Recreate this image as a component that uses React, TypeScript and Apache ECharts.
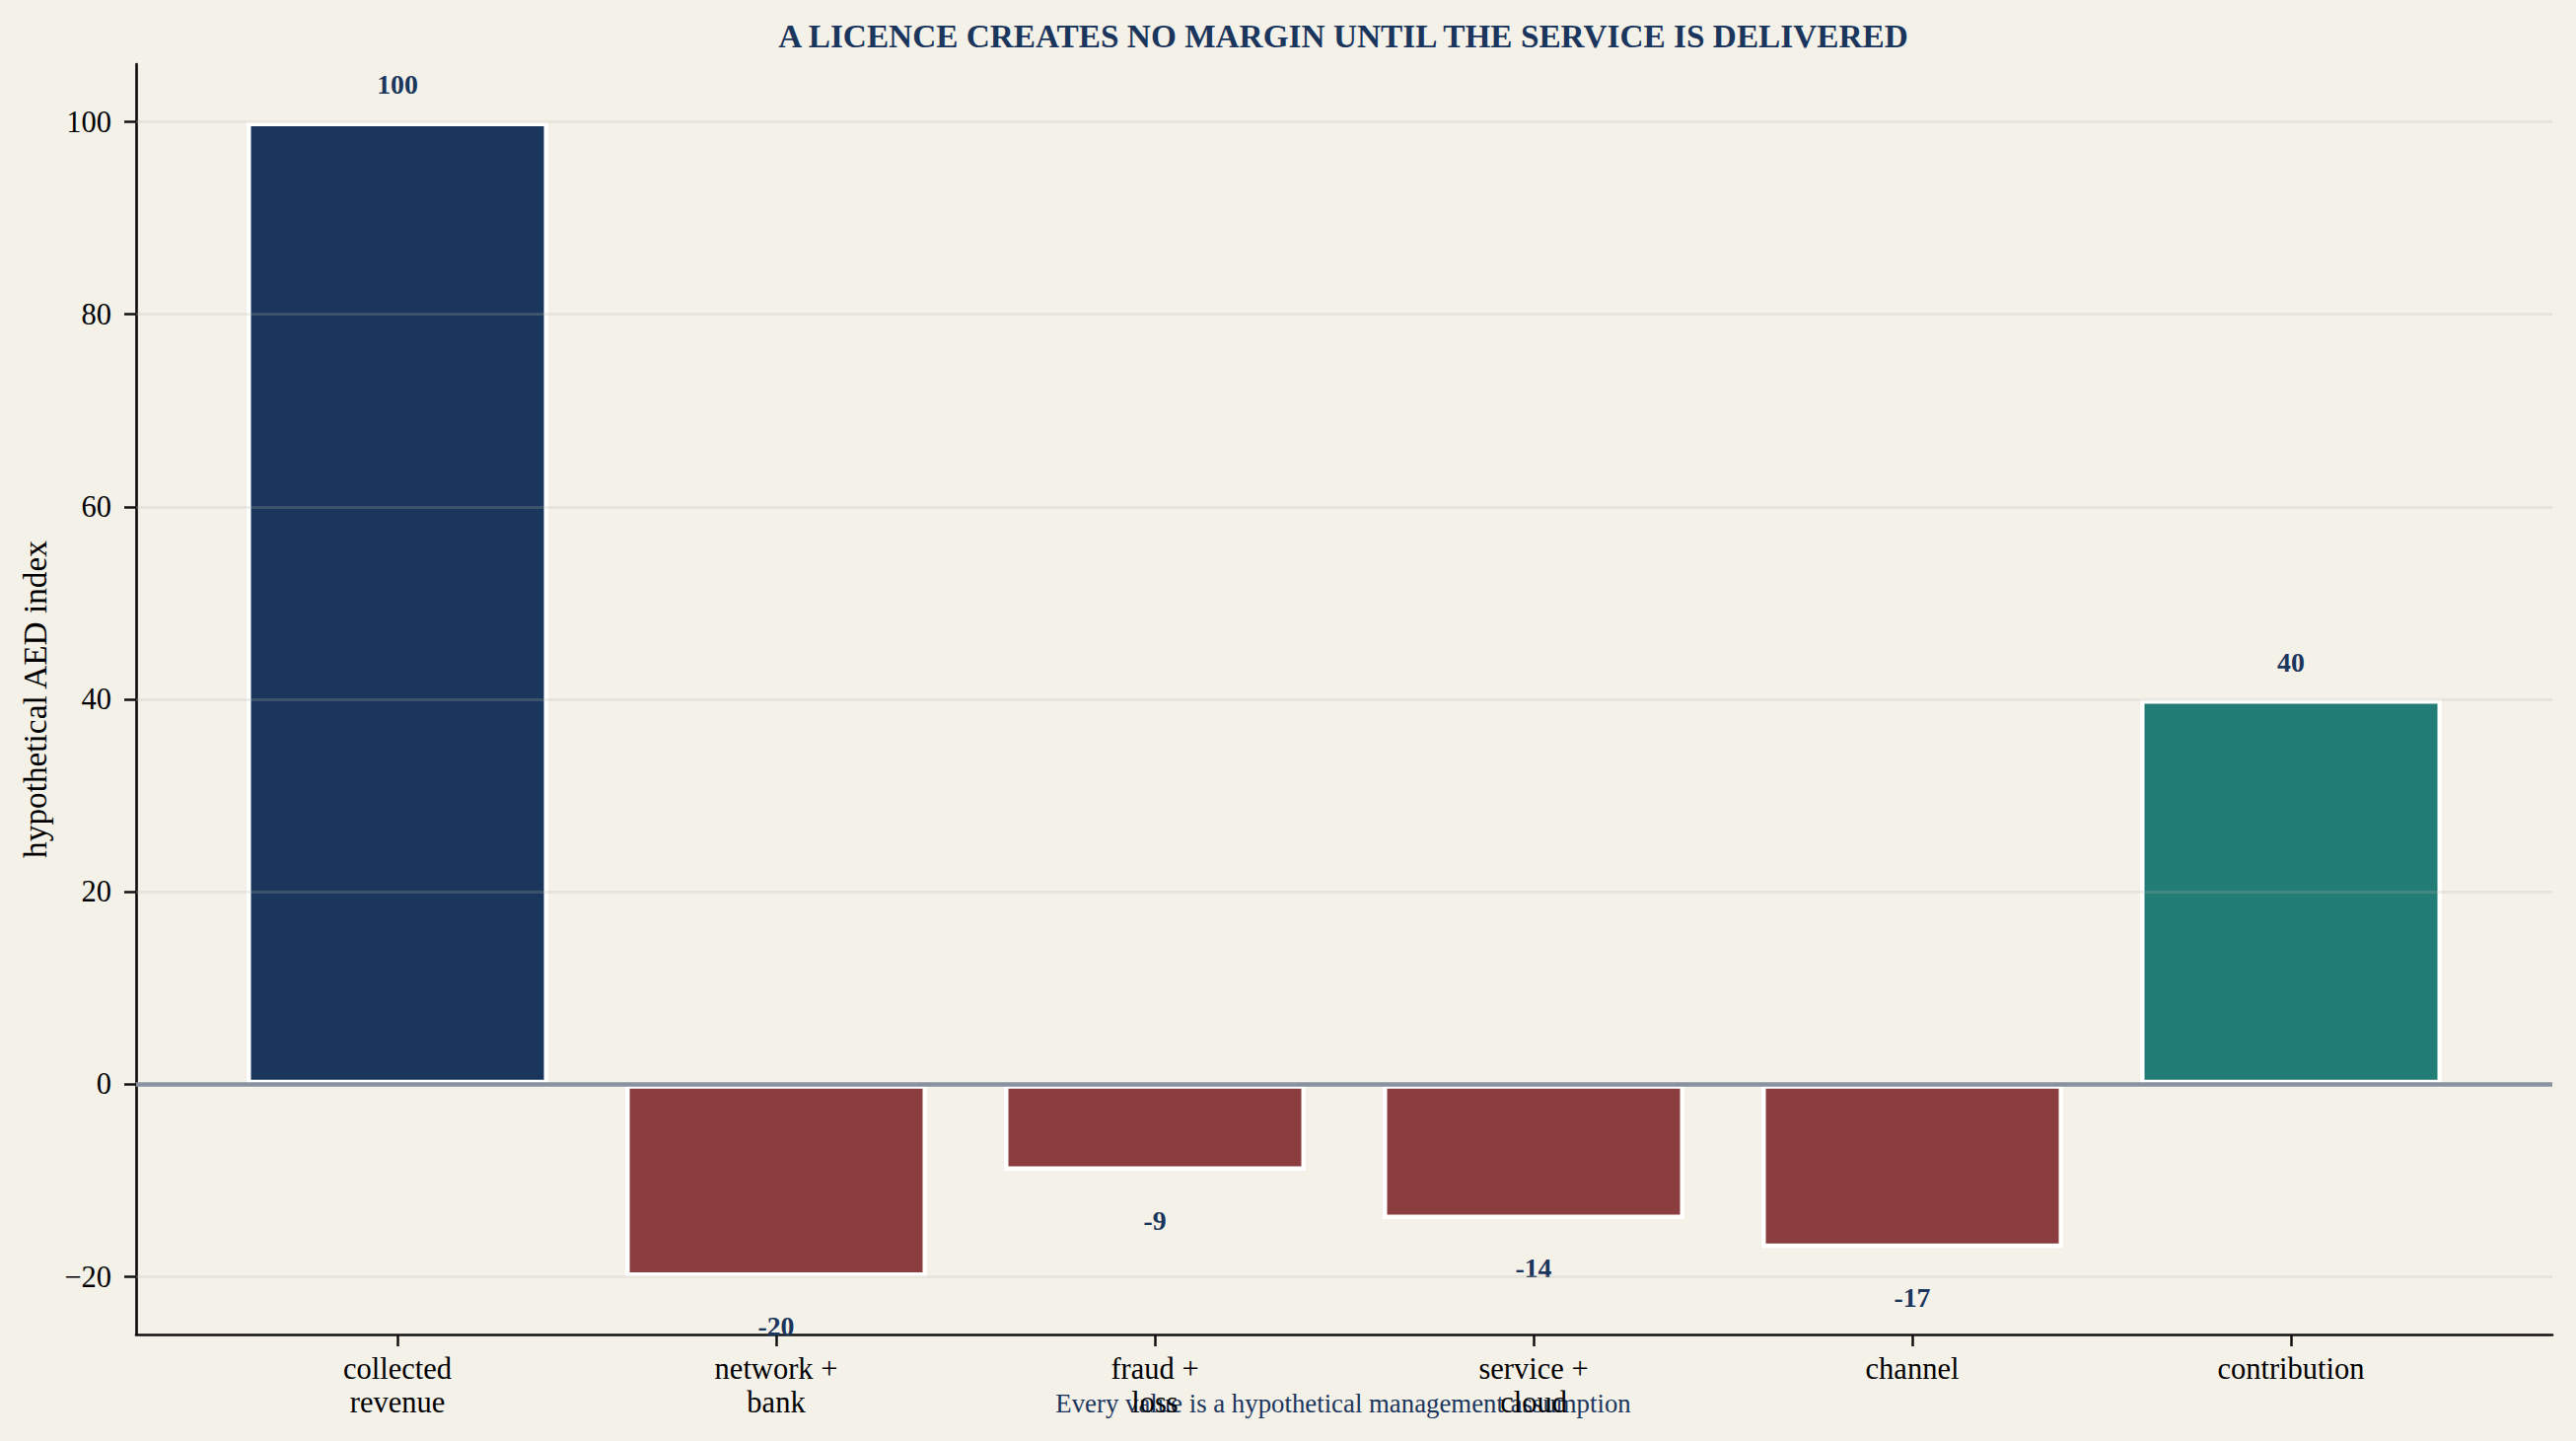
import React, { useEffect, useRef } from "react";
import * as echarts from "echarts";

const categories = [
  "collected\nrevenue",
  "network +\nbank",
  "fraud +\nloss",
  "service +\ncloud",
  "channel",
  "contribution",
];
const values = [100, -20, -9, -14, -17, 40];
const barColors = ["#1b365d", "#8b3d3f", "#8b3d3f", "#8b3d3f", "#8b3d3f", "#237d77"];
const yTickMin = -20;
const yTickMax = 100;
const yTickStep = 20;
const yRangeMin = -26;
const yRangeMax = 106;
const titleText = "A LICENCE CREATES NO MARGIN UNTIL THE SERVICE IS DELIVERED";
const footerText = "Every value is a hypothetical management assumption";
const yAxisName = "hypothetical AED index";

const FONT = '"Liberation Serif", "Times New Roman", serif';
const NAVY = "#1b365d";

export default function App() {
  const ref = useRef<HTMLDivElement>(null);

  useEffect(() => {
    if (!ref.current) return;
    const chart = echarts.init(ref.current, undefined, { renderer: "svg" });
    const axisColor = "#111111";

    const option: any = {
      animation: false,
      backgroundColor: "#f4f1e9",
      textStyle: { fontFamily: FONT },
      grid: [
        { left: 138, right: 24, top: 65, bottom: 108, containLabel: false },
        { left: 138, right: 24, top: 123.5, bottom: 166.5, containLabel: false },
        { left: 211, right: 97, top: 65, bottom: 108, containLabel: false },
      ],
      xAxis: [
        {
          gridIndex: 0,
          type: "value",
          min: 0,
          max: 1,
          axisLine: { show: true, onZero: false, lineStyle: { color: axisColor, width: 2.7 } },
          axisTick: { show: false },
          axisLabel: { show: false },
          splitLine: { show: false },
        },
        { gridIndex: 1, type: "value", min: 0, max: 1, show: false },
        {
          gridIndex: 2,
          type: "category",
          data: categories,
          axisLine: { show: false, onZero: false },
          axisTick: {
            show: true,
            alignWithLabel: true,
            length: 12,
            lineStyle: { color: axisColor, width: 2.5 },
          },
          axisLabel: {
            show: true,
            interval: 0,
            margin: 18,
            color: "#000000",
            fontFamily: FONT,
            fontSize: 30.5,
            lineHeight: 34,
          },
          splitLine: { show: false },
        },
      ],
      yAxis: [
        {
          gridIndex: 0,
          type: "value",
          min: yRangeMin,
          max: yRangeMax,
          axisLine: { show: true, onZero: false, lineStyle: { color: axisColor, width: 2.7 } },
          axisTick: { show: false },
          axisLabel: { show: false },
          splitLine: { show: false },
          name: yAxisName,
          nameLocation: "middle",
          nameGap: 86,
          nameTextStyle: { fontFamily: FONT, fontSize: 33.3, color: "#000000" },
        },
        {
          gridIndex: 1,
          type: "value",
          min: yTickMin,
          max: yTickMax,
          interval: yTickStep,
          z: 3,
          axisLine: { show: false, onZero: false },
          axisTick: { show: true, length: 12, lineStyle: { color: axisColor, width: 2.5 } },
          axisLabel: {
            show: true,
            margin: 25,
            color: "#000000",
            fontFamily: FONT,
            fontSize: 30.5,
            formatter: (v: number) => (v < 0 ? "\u2212" + Math.abs(v) : String(v)),
          },
          splitLine: { show: true, lineStyle: { color: "rgba(184,180,170,0.22)", width: 3 } },
        },
        { gridIndex: 2, type: "value", min: yRangeMin, max: yRangeMax, show: false },
      ],
      series: [
        {
          type: "bar",
          xAxisIndex: 2,
          yAxisIndex: 2,
          barWidth: 306,
          z: 2,
          itemStyle: { borderColor: "#ffffff", borderWidth: 4.5 },
          label: {
            show: true,
            formatter: "{c}",
            fontFamily: FONT,
            fontWeight: "bold",
            fontSize: 27.8,
            color: NAVY,
          },
          data: values.map((v, i) => ({
            value: v,
            itemStyle: { color: barColors[i] },
            label: { position: v >= 0 ? "top" : "bottom", distance: v >= 0 ? 24 : 36 },
          })),
        },
        {
          type: "line",
          xAxisIndex: 0,
          yAxisIndex: 0,
          data: [],
          z: 5,
          markLine: {
            silent: true,
            symbol: ["none", "none"],
            z: 5,
            label: { show: false },
            lineStyle: { color: "#8892a0", width: 4.7, type: "solid" },
            data: [{ yAxis: 0 }],
          },
        },
      ],
      graphic: [
        {
          type: "text",
          x: 1362,
          y: 36,
          style: {
            text: titleText,
            fill: NAVY,
            fontFamily: FONT,
            fontWeight: "bold",
            fontSize: 33.3,
            align: "center",
            verticalAlign: "middle",
          },
        },
        {
          type: "text",
          x: 1362,
          y: 1423,
          style: {
            text: footerText,
            fill: NAVY,
            fontFamily: FONT,
            fontSize: 26.8,
            align: "center",
            verticalAlign: "middle",
          },
        },
      ],
    };

    chart.setOption(option);
    return () => chart.dispose();
  }, []);

  return (
    <div
      ref={ref}
      style={{ position: "absolute", left: 0, top: 0, width: 2612, height: 1461 }}
    />
  );
}
